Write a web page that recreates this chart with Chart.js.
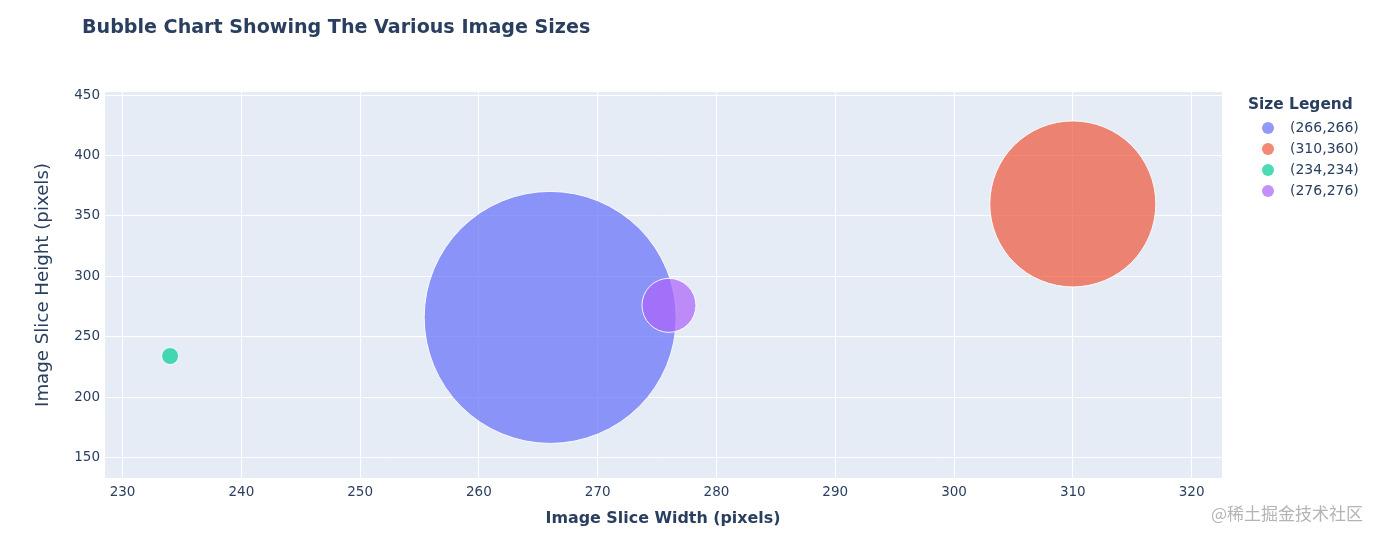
<!DOCTYPE html>
<html>
<head>
<meta charset="utf-8">
<script src="https://cdn.jsdelivr.net/npm/chart.js@4/dist/chart.umd.min.js"></script>
<style>
  body { margin: 0; background: #fff; }
</style>
</head>
<body>
<canvas id="chart" width="1380" height="542"></canvas>
<script>
// data
const sizeLabels = ['(266,266)', '(310,360)', '(234,234)', '(276,276)'];
const sliceWidths = [266, 310, 234, 276];
const sliceHeights = [266, 360, 234, 276];
const bubbleRadius = [126, 83, 8.5, 27];
const xTicks = [230, 240, 250, 260, 270, 280, 290, 300, 310, 320];
const yTicks = [150, 200, 250, 300, 350, 400, 450];

const palette = ['99,110,250', '239,85,59', '0,204,150', '171,99,250'];
const inkColor = '#2a3f5f';
const sans = '"DejaVu Sans", Verdana, sans-serif';

const datasets = sizeLabels.map((lbl, i) => ({
  label: lbl,
  data: [{ x: sliceWidths[i], y: sliceHeights[i], r: bubbleRadius[i] }],
  backgroundColor: `rgba(${palette[i]},0.7)`,
  borderColor: 'rgba(255,255,255,0.9)',
  borderWidth: 1,
  order: -i   // later traces on top, like plotly
}));

// pick a font size so the text spans roughly the width seen in the picture
function fitFont(ctx, text, weight, width) {
  ctx.font = `${weight} 20px ${sans}`;
  const size = 20 * width / ctx.measureText(text).width;
  return `${weight} ${size.toFixed(1)}px ${sans}`;
}

const decorPlugin = {
  id: 'decor',
  beforeDraw(chart) {
    const { ctx, chartArea: a } = chart;
    ctx.save();
    ctx.fillStyle = '#e5ecf6';
    ctx.fillRect(a.left, a.top, a.right - a.left, a.bottom - a.top);
    ctx.restore();
  },
  afterDraw(chart) {
    const { ctx } = chart;
    ctx.save();
    ctx.fillStyle = inkColor;
    ctx.textBaseline = 'middle';

    // title
    const title = 'Bubble Chart Showing The Various Image Sizes';
    ctx.font = fitFont(ctx, title, 'bold', 508);
    ctx.textAlign = 'left';
    ctx.fillText(title, 82, 28);

    // x axis title
    const xTitle = 'Image Slice Width (pixels)';
    ctx.font = fitFont(ctx, xTitle, 'bold', 235);
    ctx.textAlign = 'center';
    ctx.fillText(xTitle, 663, 519);

    // y axis title
    const yTitle = 'Image Slice Height (pixels)';
    ctx.save();
    ctx.translate(43, 285);
    ctx.rotate(-Math.PI / 2);
    ctx.font = fitFont(ctx, yTitle, 'normal', 244);
    ctx.fillText(yTitle, 0, 0);
    ctx.restore();

    // legend
    ctx.textAlign = 'left';
    ctx.font = fitFont(ctx, 'Size Legend', 'bold', 105);
    ctx.fillText('Size Legend', 1248, 105);
    ctx.font = `14px ${sans}`;
    sizeLabels.forEach((lbl, i) => {
      const y = 128 + i * 21;
      ctx.beginPath();
      ctx.arc(1268, y, 6, 0, Math.PI * 2);
      ctx.fillStyle = `rgba(${palette[i]},0.7)`;
      ctx.fill();
      ctx.fillStyle = inkColor;
      ctx.fillText(lbl, 1290, y);
    });

    // watermark
    ctx.fillStyle = '#b4b4b4';
    ctx.font = '17px "Noto Sans CJK SC", sans-serif';
    ctx.textAlign = 'right';
    ctx.fillText('@稀土掘金技术社区', 1363, 514);
    ctx.restore();
  }
};

new Chart(document.getElementById('chart'), {
  type: 'bubble',
  data: { datasets },
  plugins: [decorPlugin],
  options: {
    responsive: false,
    animation: false,
    layout: { autoPadding: false, padding: { left: 0, top: 92, right: 158, bottom: 0 } },
    plugins: {
      legend: { display: false },
      title: { display: false },
      tooltip: { enabled: false }
    },
    scales: {
      x: {
        type: 'linear',
        min: 228.52,
        max: 322.56,
        afterFit(axis) { axis.height = 64; },
        afterBuildTicks(axis) { axis.ticks = xTicks.map(v => ({ value: v })); },
        grid: { color: '#ffffff', lineWidth: 1, drawTicks: false },
        border: { display: false },
        ticks: {
          padding: 6,
          color: inkColor,
          font: { family: sans, size: 13.5 },
          maxRotation: 0
        }
      },
      y: {
        type: 'linear',
        min: 133,
        max: 452.7,
        afterFit(axis) { axis.width = 105; },
        afterBuildTicks(axis) { axis.ticks = yTicks.map(v => ({ value: v })); },
        grid: { color: '#ffffff', lineWidth: 1, drawTicks: false },
        border: { display: false },
        ticks: {
          padding: 5,
          color: inkColor,
          font: { family: sans, size: 13.5 }
        }
      }
    }
  }
});
</script>
</body>
</html>
